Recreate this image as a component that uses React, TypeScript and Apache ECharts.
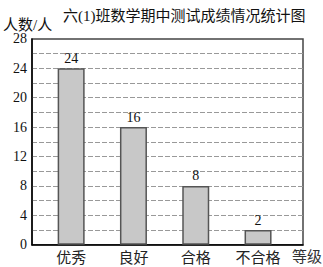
import React, { useEffect, useRef } from "react";
import * as echarts from "echarts";

const TITLE = "六(1)班数学期中测试成绩情况统计图";
const Y_NAME = "人数/人";
const X_NAME = "等级";
const categories = ["优秀", "良好", "合格", "不合格"];
const values = [24, 16, 8, 2];
const Y_MAX = 28;
const Y_STEP = 2;
const LABEL_STEP = 4;

const FONT = "'Liberation Serif', 'Noto Sans CJK SC', serif";

export default function App() {
  const ref = useRef<HTMLDivElement>(null);
  useEffect(() => {
    if (!ref.current) return;
    const chart = echarts.init(ref.current, null, { renderer: "svg" });
    const top = 38.9;
    const bottom = 267 - 244.7;
    chart.setOption({
      animation: false,
      backgroundColor: "#fff",
      textStyle: { fontFamily: FONT, color: "#000" },
      title: {
        text: TITLE,
        left: 58,
        top: 3,
        textStyle: { fontFamily: FONT, fontSize: 15, fontWeight: "normal", color: "#111" },
      },
      graphic: [
        {
          type: "text",
          left: 3,
          top: 17,
          style: { text: Y_NAME, fontFamily: FONT, fontSize: 15, lineHeight: 15, fill: "#111" },
        },
        {
          type: "text",
          left: 292,
          top: 249,
          style: { text: X_NAME, fontFamily: FONT, fontSize: 15, fill: "#333" },
        },
      ],
      grid: [
        {
          left: 32,
          right: 20,
          top,
          bottom,
          show: true,
          borderColor: "#444",
          borderWidth: 1.5,
          backgroundColor: "transparent",
        },
        { left: 40, width: 249.2, top, bottom, show: false },
      ],
      xAxis: [
        {
          gridIndex: 0,
          type: "category",
          data: [""],
          axisLine: { show: true, lineStyle: { color: "#000", width: 1.5 } },
          axisTick: { show: false },
          axisLabel: { show: false },
          splitLine: { show: false },
          splitArea: { show: false },
        },
        {
          gridIndex: 1,
          type: "category",
          data: categories,
          axisLine: { show: false },
          axisTick: { show: false },
          splitLine: { show: false },
          splitArea: { show: false },
          axisLabel: { fontFamily: FONT, fontSize: 15, color: "#222", margin: 6 },
        },
      ],
      yAxis: [
        {
          gridIndex: 0,
          type: "value",
          min: 0,
          max: Y_MAX,
          interval: Y_STEP,
          axisLine: { show: true, lineStyle: { color: "#000", width: 1.5 } },
          axisTick: { show: false },
          axisLabel: {
            fontFamily: FONT,
            fontSize: 14,
            lineHeight: 12,
            color: "#111",
            margin: 5,
            formatter: (v: number) => (v % LABEL_STEP === 0 ? String(v) : ""),
          },
          splitLine: {
            show: true,
            showMinLine: false,
            showMaxLine: false,
            lineStyle: { color: "#999", type: [5, 2], width: 1 },
          },
        },
        {
          gridIndex: 1,
          type: "value",
          min: 0,
          max: Y_MAX,
          interval: Y_STEP,
          show: false,
          splitLine: { show: false },
        },
      ],
      series: [
        {
          type: "bar",
          xAxisIndex: 1,
          yAxisIndex: 1,
          data: values,
          barWidth: 27,
          itemStyle: { color: "#c8c8c8", borderColor: "#555", borderWidth: 1.5 },
          label: {
            show: true,
            position: "top",
            distance: 3,
            fontFamily: FONT,
            fontSize: 14,
            color: "#111",
          },
        },
      ],
    });
    return () => chart.dispose();
  }, []);
  return (
    <div
      ref={ref}
      style={{ position: "fixed", left: 0, top: 0, width: 323, height: 267 }}
    />
  );
}
